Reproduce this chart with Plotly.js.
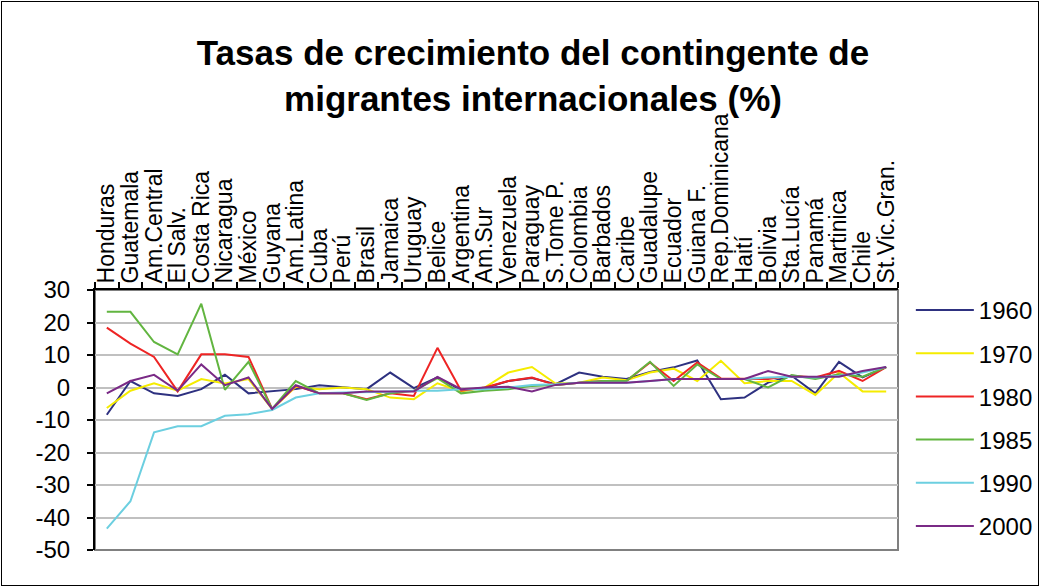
<!DOCTYPE html>
<html>
<head>
<meta charset="utf-8">
<script src="https://cdn.plot.ly/plotly-3.0.1.min.js"></script>
<style>
  html, body { margin: 0; padding: 0; background: #fff; }
  #wrap { position: relative; width: 1040px; height: 587px; }
  #chart { width: 1040px; height: 587px; }
  #frame { position: absolute; left: 1px; top: 1px; width: 1036px; height: 583px; border: 1px solid #000; pointer-events: none; }
</style>
</head>
<body>
<div id="wrap"><div id="chart"></div><div id="frame"></div></div>
<script>
const categories = ["Honduras","Guatemala","Am.Central","El Salv.","Costa Rica","Nicaragua","México","Guyana","Am.Latina","Cuba","Perú","Brasil","Jamaica","Uruguay","Belice","Argentina","Am.Sur","Venezuela","Paraguay","S.Tome P.","Colombia","Barbados","Caribe","Guadalupe","Ecuador","Guiana F.","Rep.Dominicana","Haití","Bolivia","Sta.Lucía","Panamá","Martinica","Chile","St.Vic.Gran."];

const y1960 = [-8.4, 2.0, -1.8, -2.6, -0.5, 3.9, -1.8, -1.2, -0.5, 0.7, 0.0, -0.5, 4.6, -0.2, 3.1, -0.8, -0.2, 2.0, 2.9, 1.0, 4.6, 3.3, 2.6, 4.8, 6.2, 8.3, -3.6, -3.1, 1.5, 3.6, -1.8, 7.9, 3.1, 6.3];
const y1970 = [-6.3, -1.0, 1.3, -1.0, 2.6, 1.2, 2.6, -6.6, 0.2, -0.5, 0.0, -0.5, -3.1, -3.6, 1.3, -1.2, 0.0, 4.6, 6.3, 1.2, 1.5, 3.1, 2.2, 4.6, 5.8, 2.0, 8.2, 1.3, 2.0, 2.0, -2.3, 4.6, -1.2, -1.2];
const y1980 = [18.4, 13.5, 9.4, -1.2, 10.2, 10.2, 9.4, -6.6, 0.5, -1.8, -1.8, -3.6, -1.8, -2.6, 12.2, -1.0, 0.0, 2.0, 3.1, 0.8, 1.5, 2.0, 2.0, 7.7, 2.0, 7.7, 2.8, 2.6, 2.6, 3.6, 3.1, 5.1, 2.0, 6.3];
const y1985 = [23.3, 23.3, 14.0, 10.2, 25.8, -0.7, 7.9, -6.6, 2.0, -1.8, -1.8, -3.8, -1.8, -1.0, 2.9, -1.8, -1.0, -0.5, 0.5, 0.8, 1.5, 2.0, 2.0, 7.9, 0.5, 7.1, 2.6, 2.6, 0.0, 3.8, 2.6, 4.1, 3.3, 6.3];
const y1990 = [-43.4, -35.0, -13.8, -11.9, -11.9, -8.7, -8.2, -6.9, -3.1, -1.8, -1.5, -1.5, -1.3, -1.0, -1.0, -0.5, -0.5, 0.0, 0.8, 1.0, 1.5, 1.5, 1.5, 2.0, 2.6, 2.6, 2.6, 2.6, 3.1, 3.3, 3.1, 3.6, 4.6, 6.3];
const y2000 = [-1.8, 2.0, 3.9, -1.0, 7.1, 0.7, 3.1, -6.6, 0.7, -1.8, -1.8, -1.2, -1.2, -1.2, 3.3, -0.5, 0.0, 0.2, -1.2, 0.8, 1.5, 1.5, 1.5, 2.0, 2.6, 2.6, 2.6, 2.6, 5.1, 3.3, 3.3, 3.3, 5.1, 6.3];

const yTickVals = [-50, -40, -30, -20, -10, 0, 10, 20, 30];
const yTickText = ["-50", "-40", "-30", "-20", "-10", "0", "10", "20", "30"];

const seriesNames = ["1960","1970","1980","1985","1990","2000"];
const seriesData = [y1960, y1970, y1980, y1985, y1990, y2000];
const seriesColors = ["#2e3180","#f5ec00","#ee2424","#62b540","#6ccfe0","#7a2a86"];

const FONT = '"Liberation Sans", Arial, Helvetica, sans-serif';

const traces = seriesNames.map((n, i) => ({
  type: 'scatter',
  mode: 'lines',
  name: n,
  legendgroup: n,
  x: categories,
  y: seriesData[i],
  line: { color: seriesColors[i], width: 2 },
  hoverinfo: 'x+y+name'
}));

const layout = {
  width: 1040,
  height: 587,
  margin: { l: 95, r: 142, t: 290, b: 37, pad: 0, autoexpand: false },
  paper_bgcolor: '#ffffff',
  plot_bgcolor: '#ffffff',
  font: { family: FONT, color: '#000', size: 20 },
  title: {
    text: 'Tasas de crecimiento del contingente de<br>migrantes internacionales (%)',
    font: { family: FONT, size: 35, weight: 'bold', color: '#000' },
    xref: 'container', yref: 'container',
    x: 0.5125, xanchor: 'center',
    y: 0.889, yanchor: 'middle'
  },
  xaxis: {
    type: 'category',
    side: 'top',
    range: [-0.5, categories.length - 0.5],
    tickmode: 'linear',
    tick0: 0,
    dtick: 1,
    tickangle: -90,
    tickfont: { family: FONT, size: 23, color: '#000' },
    ticks: 'outside',
    tickson: 'boundaries',
    ticklen: 6,
    tickwidth: 2,
    tickcolor: '#000',
    showline: true,
    linecolor: '#000',
    linewidth: 2,
    showgrid: false,
    zeroline: false,
    automargin: false,
    fixedrange: true
  },
  yaxis: {
    range: [-50, 30],
    tickmode: 'array',
    tickvals: yTickVals,
    ticktext: yTickText,
    tickfont: { family: FONT, size: 24, color: '#000' },
    ticks: 'outside',
    ticklen: 6,
    tickwidth: 2,
    tickcolor: '#000',
    ticklabelstandoff: 12,
    showline: true,
    linecolor: '#000',
    linewidth: 2,
    showgrid: true,
    gridcolor: '#c0c0c0',
    gridwidth: 2,
    zeroline: false,
    automargin: false,
    fixedrange: true
  },
  legend: {
    x: 1.016, xanchor: 'left',
    y: 1.008, yanchor: 'top',
    font: { family: FONT, size: 24, color: '#000' },
    tracegroupgap: 9,
    itemwidth: 58,
    bgcolor: 'rgba(0,0,0,0)',
    borderwidth: 0
  },
  shapes: [{
    type: 'rect', xref: 'paper', yref: 'paper',
    x0: 0, x1: 1, y0: 0, y1: 1,
    line: { color: '#808080', width: 2 },
    layer: 'below'
  }],
  showlegend: true
};

Plotly.newPlot('chart', traces, layout, { displayModeBar: false, staticPlot: true });
</script>
</body>
</html>
